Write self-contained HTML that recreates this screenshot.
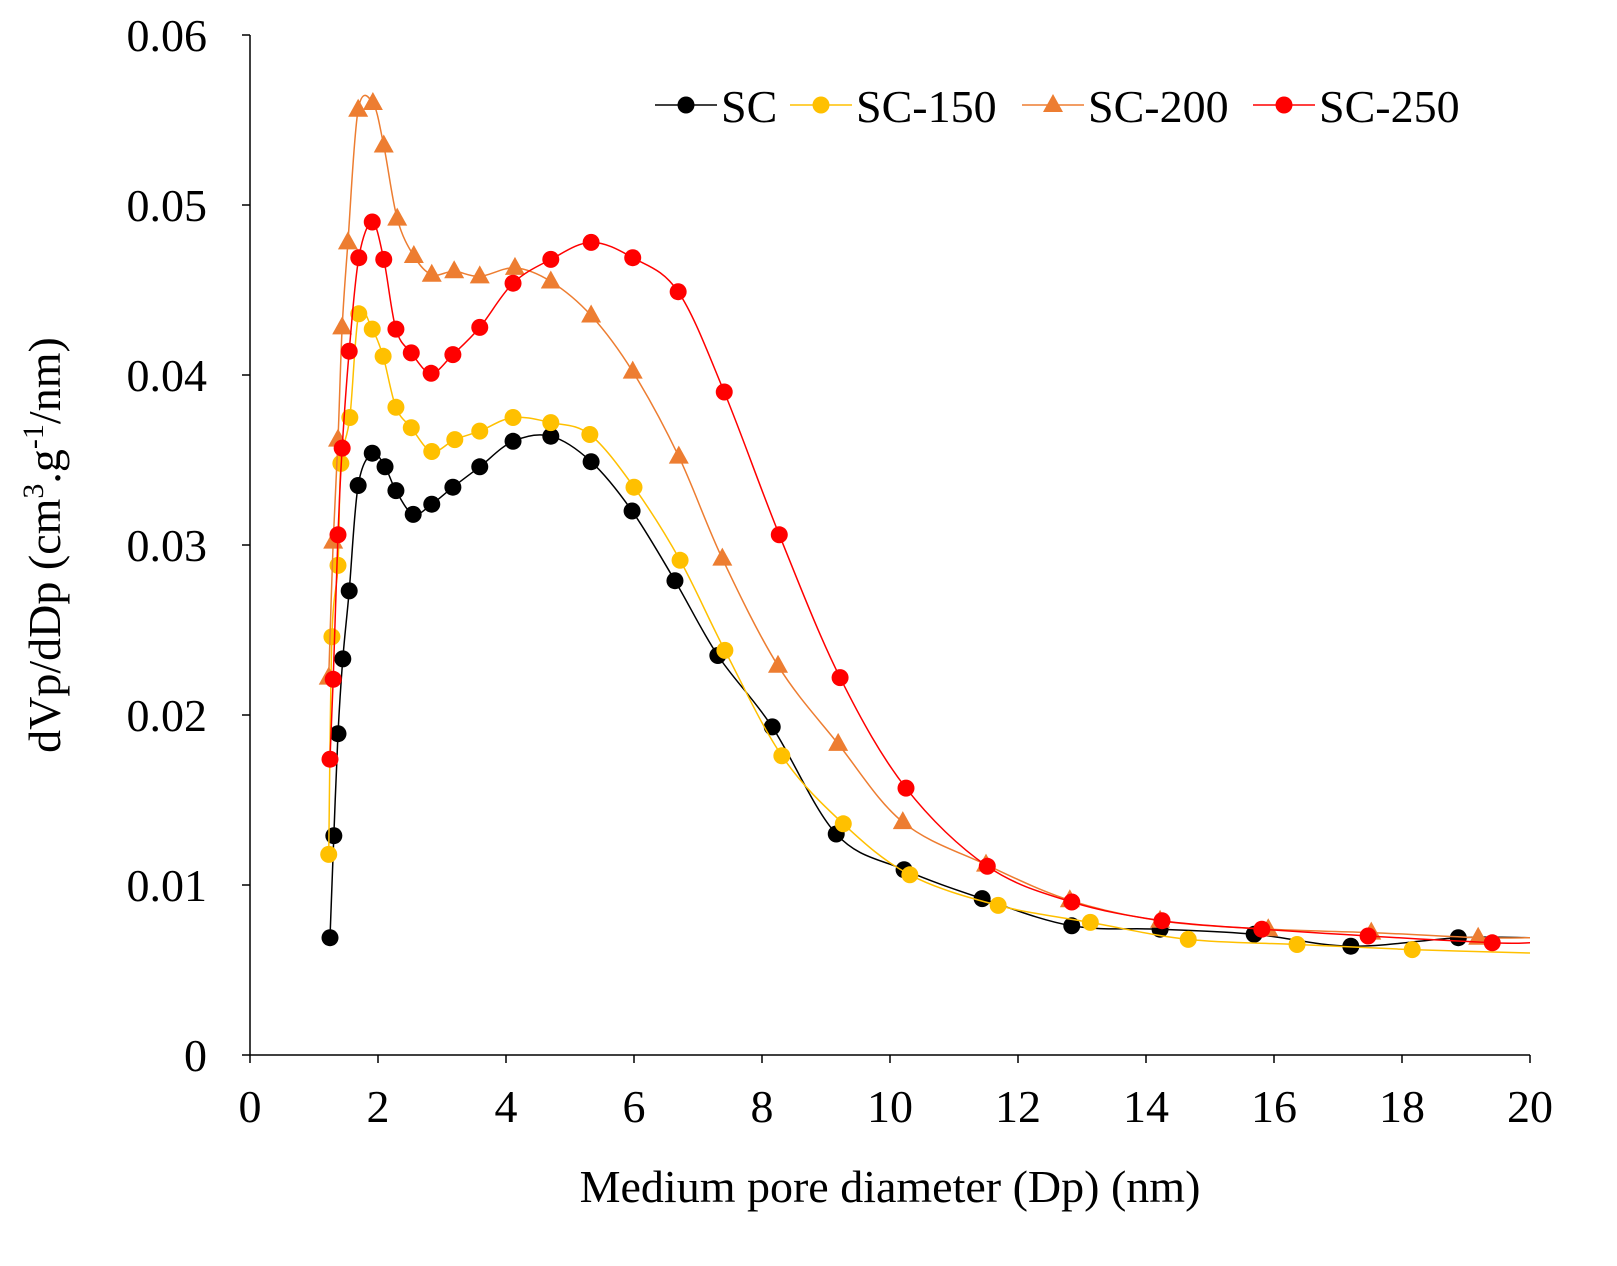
<!DOCTYPE html>
<html><head><meta charset="utf-8"><style>
html,body{margin:0;padding:0;background:#fff;}
svg{display:block;font-family:"Liberation Serif",serif;}
</style></head><body>
<svg id="chart" width="1617" height="1266" viewBox="0 0 1617 1266" xmlns="http://www.w3.org/2000/svg">
<rect width="1617" height="1266" fill="#fff"/>
<g id="axes"></g><g id="series"></g><g id="legend"></g>
</svg>
<script>
const xTicks=[0,2,4,6,8,10,12,14,16,18,20];
const yTicks=[0,0.01,0.02,0.03,0.04,0.05,0.06];
const yTickLabels=["0","0.01","0.02","0.03","0.04","0.05","0.06"];
const scX=[1.25,1.31,1.375,1.45,1.55,1.69,1.91,2.11,2.28,2.55,2.84,3.17,3.59,4.11,4.70,5.33,5.97,6.64,7.31,8.16,9.16,10.22,11.44,12.84,14.22,15.69,17.2,18.88];
const scY=[0.0069,0.0129,0.0189,0.0233,0.0273,0.0335,0.0354,0.0346,0.0332,0.0318,0.0324,0.0334,0.0346,0.0361,0.0364,0.0349,0.0320,0.0279,0.0235,0.0193,0.0130,0.0109,0.0092,0.0076,0.0074,0.0071,0.0064,0.0069];
const sc150X=[1.23,1.28,1.375,1.42,1.56,1.70,1.91,2.08,2.28,2.52,2.84,3.20,3.59,4.11,4.70,5.31,6.0,6.72,7.42,8.31,9.27,10.31,11.69,13.13,14.66,16.36,18.16];
const sc150Y=[0.0118,0.0246,0.0288,0.0348,0.0375,0.0436,0.0427,0.0411,0.0381,0.0369,0.0355,0.0362,0.0367,0.0375,0.0372,0.0365,0.0334,0.0291,0.0238,0.0176,0.0136,0.0106,0.0088,0.0078,0.0068,0.0065,0.0062];
const sc200X=[1.23,1.30,1.375,1.44,1.53,1.69,1.92,2.09,2.30,2.56,2.84,3.19,3.59,4.14,4.70,5.33,5.98,6.70,7.38,8.25,9.19,10.2,11.5,12.81,14.22,15.91,17.52,19.19];
const sc200Y=[0.0222,0.0302,0.0362,0.0428,0.0478,0.0556,0.0560,0.0535,0.0492,0.0470,0.0459,0.0461,0.0458,0.0463,0.0455,0.0435,0.0402,0.0352,0.0292,0.0229,0.0183,0.0137,0.0112,0.0091,0.0079,0.0074,0.0072,0.0069];
const sc250X=[1.25,1.30,1.375,1.44,1.55,1.70,1.91,2.09,2.28,2.52,2.83,3.17,3.59,4.11,4.70,5.33,5.98,6.69,7.41,8.27,9.22,10.25,11.52,12.84,14.25,15.81,17.47,19.41];
const sc250Y=[0.0174,0.0221,0.0306,0.0357,0.0414,0.0469,0.0490,0.0468,0.0427,0.0413,0.0401,0.0412,0.0428,0.0454,0.0468,0.0478,0.0469,0.0449,0.0390,0.0306,0.0222,0.0157,0.0111,0.0090,0.0079,0.0074,0.0070,0.0066];
const tailY=[0.0069,0.0060,0.0069,0.0066];
const seriesNames=["SC","SC-150","SC-200","SC-250"];

const NS="http://www.w3.org/2000/svg";
const X0=250,X1=1530,Y0=1055,Y1=35;
const sx=v=>X0+(v-0)/(20-0)*(X1-X0);
const sy=v=>Y0-(v-0)/(0.06-0)*(Y0-Y1);
function mk(tag,attrs,parent){const e=document.createElementNS(NS,tag);for(const k in attrs)e.setAttribute(k,attrs[k]);parent.appendChild(e);return e;}
const axes=document.getElementById('axes');
let a=mk('line',{x1:X0,y1:Y1,x2:X0,y2:Y0,stroke:'#000','stroke-width':1.5},axes);


a=mk('line',{x1:X0,y1:Y0,x2:X1,y2:Y0,stroke:'#000','stroke-width':1.5},axes);


xTicks.forEach(t=>{
  mk('line',{x1:sx(t),y1:Y0,x2:sx(t),y2:Y0+8,stroke:'#000','stroke-width':1.5},axes);
  const tx=mk('text',{x:sx(t),y:1122,'text-anchor':'middle','font-size':46},axes);
  tx.textContent=t;
  
  
});
yTicks.forEach((t,i)=>{
  mk('line',{x1:X0-8,y1:sy(t),x2:X0,y2:sy(t),stroke:'#000','stroke-width':1.5},axes);
  const tx=mk('text',{x:207,y:sy(t)+16,'text-anchor':'end','font-size':46},axes);
  tx.textContent=yTickLabels[i];
  
  
});
let xt=mk('text',{x:890,y:1202,'text-anchor':'middle','font-size':46},axes);
xt.textContent='Medium pore diameter (Dp) (nm)';


let yt=mk('text',{transform:'translate(60,545) rotate(-90)','text-anchor':'middle','font-size':46},axes);
yt.innerHTML='dVp/dDp (cm<tspan font-size="30" dy="-17">3</tspan><tspan dy="17">.g</tspan><tspan font-size="30" dy="-17">-1</tspan><tspan dy="17">/nm)</tspan>';



function smooth(pts){
  let d=`M${pts[0][0]},${pts[0][1]}`;
  for(let i=0;i<pts.length-1;i++){
    const p0=pts[Math.max(0,i-1)],p1=pts[i],p2=pts[i+1],p3=pts[Math.min(pts.length-1,i+2)];
    const t=6;
    d+=` C${p1[0]+(p2[0]-p0[0])/t},${p1[1]+(p2[1]-p0[1])/t} ${p2[0]-(p3[0]-p1[0])/t},${p2[1]-(p3[1]-p1[1])/t} ${p2[0]},${p2[1]}`;
  }
  return d;
}
const cfg=[
 {xs:scX,ys:scY,c:'#000000',lc:'#000000',m:'circle'},
 {xs:sc150X,ys:sc150Y,c:'#FFC000',lc:'#FFC000',m:'circle'},
 {xs:sc200X,ys:sc200Y,c:'#ED7D31',lc:'#ED7D31',m:'tri'},
 {xs:sc250X,ys:sc250Y,c:'#FF0000',lc:'#FF0000',m:'circle'}];
const sg=document.getElementById('series');
function marker(g,m,x,y,c,name){
  let e;
  if(m==='circle') e=mk('circle',{cx:x,cy:y,r:8.5,fill:c},g);
  else e=mk('polygon',{points:`${x},${y-11} ${x-10},${y+7} ${x+10},${y+7}`,fill:c},g);
  
  
}
cfg.forEach((s,k)=>{
  const g=mk('g',{},sg);
  
  
  const pts=s.xs.map((x,i)=>[sx(x),sy(s.ys[i])]);
  pts.push([sx(20),sy(tailY[k])]);
  const p=mk('path',{d:smooth(pts),fill:'none',stroke:s.lc,'stroke-width':1.5},g);
  
  
  s.xs.forEach((x,i)=>marker(g,s.m,sx(x),sy(s.ys[i]),s.c,'point'));
});
const lg=document.getElementById('legend');
const lx=[655,790,1022,1253];
cfg.forEach((s,k)=>{
  const g=mk('g',{},lg);
  
  
  mk('line',{x1:lx[k],y1:105,x2:lx[k]+62,y2:105,stroke:s.lc,'stroke-width':1.5},g);
  marker(g,s.m,lx[k]+31,105,s.c,'legend-marker');
  const t=mk('text',{x:lx[k]+66,y:122,'font-size':46},g);
  t.textContent=seriesNames[k];
});
</script>
</body></html>
